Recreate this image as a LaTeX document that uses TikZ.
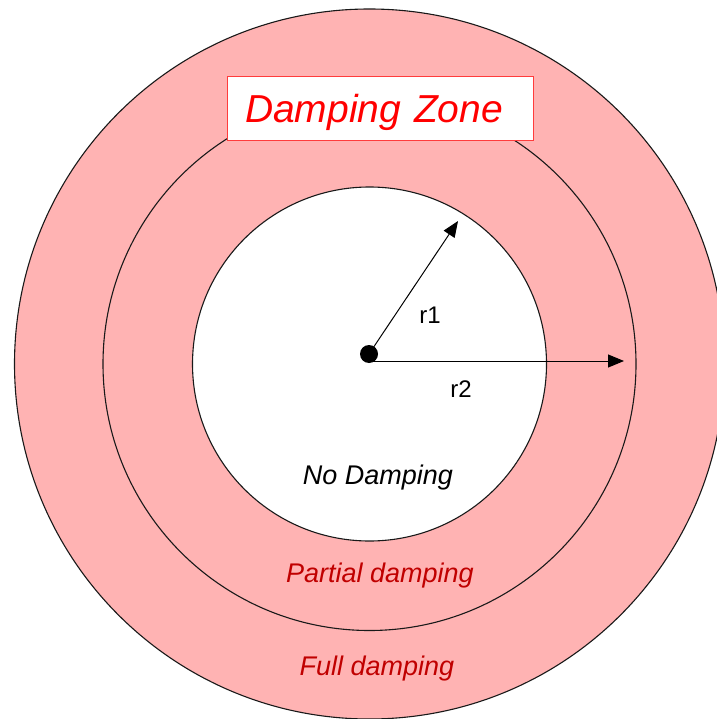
\documentclass[tikz,border=0pt]{standalone}
\usepackage{fontspec}
\setmainfont{Liberation Sans}
\usetikzlibrary{arrows.meta}
\definecolor{zonepink}{RGB}{255,179,179}
\definecolor{zonered}{RGB}{255,0,0}
\definecolor{boxred}{RGB}{255,60,60}
\definecolor{labelred}{RGB}{192,0,0}
\begin{document}
\begin{tikzpicture}[x=1pt,y=-1pt,
  ring/.style={draw=black!90,line width=1.1pt},
  radius arrow/.style={draw=black,line width=1pt,-{Triangle[length=16pt,width=13pt]}},
  zonelabel/.style={anchor=base,inner sep=0pt,font=\fontsize{27}{32}\selectfont\itshape},
  rlabel/.style={anchor=base,inner sep=0pt,font=\fontsize{24}{28}\selectfont},
  titlebox/.style={draw=boxred,line width=1pt,fill=white,text=zonered,
    font=\fontsize{39}{44}\selectfont\itshape,text width=270pt,align=left,
    inner xsep=18pt,inner ysep=10pt,text height=36pt,text depth=8pt,
    minimum height=64pt}]
\useasboundingbox (0,0) rectangle (716,719);
\coordinate (c) at (369.5,364);
% rings
\filldraw[fill=zonepink,ring] (c) circle (355);
\filldraw[fill=zonepink,ring] (c) circle (266.5);
\filldraw[fill=white,ring] (c) circle (177);
% centre dot and radii
\coordinate (dot) at (369,354);
\coordinate (r1tip) at (458,221);
\coordinate (r2start) at (372,361);
\coordinate (r2tip) at (624,361);
\draw[radius arrow] (dot) -- (r1tip);
\draw[radius arrow] (r2start) -- (r2tip);
\fill[black] (dot) circle (9);
\node[rlabel] (r1) at (430,323) {r1};
\node[rlabel] (r2) at (461,397) {r2};
% zone labels
\node[zonelabel,text=black] (nodamp) at (378,484) {No Damping};
\node[zonelabel,text=labelred] (partial) at (380,582) {Partial damping};
\node[zonelabel,text=labelred] (full) at (377,675) {Full damping};
% title box
\node[titlebox] (title) at (380,109) {Damping Zone};
\end{tikzpicture}
\end{document}
